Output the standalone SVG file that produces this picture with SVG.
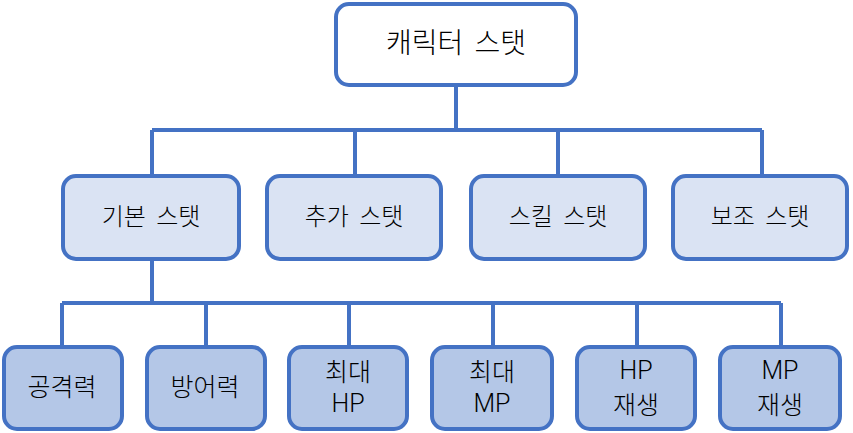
<svg xmlns="http://www.w3.org/2000/svg" width="853" height="433" viewBox="0 0 853 433">
<style>
.box{stroke:#4472C4;stroke-width:4}
.root{fill:#FFFFFF}
.mid{fill:#DAE3F3}
.leaf{fill:#B4C7E7}
.t{font-family:"Noto Sans CJK KR","Noto Sans",sans-serif;font-weight:300;fill:#000;text-anchor:middle}
.la{font-family:Roboto,"Noto Sans CJK KR",sans-serif;font-weight:300}
.big{font-size:28px;word-spacing:5px}
.sm{font-size:24px;word-spacing:5px}
.lf{font-size:25px}
.conn{fill:none;stroke:#4472C4;stroke-width:4}
</style>
<g id="connectors">
<path class="conn" d="M456 85V130M152 130H762M152 130V176M355 130V176M558 130V176M762 130V176"/>
<path class="conn" d="M152 259V303M62 303H781M62 303V347M206 303V347M349 303V347M493 303V347M637 303V347M781 303V347"/>
</g>
<g id="root"><rect class="box root" x="336" y="4" width="240" height="81" rx="13"/><text class="t big" x="456" y="53">캐릭터 스탯</text></g>
<g id="basic"><rect class="box mid" x="63" y="176" width="176" height="83" rx="13"/><text class="t sm" x="151" y="225">기본 스탯</text></g>
<g id="extra"><rect class="box mid" x="267" y="176" width="174" height="83" rx="13"/><text class="t sm" x="354" y="225">추가 스탯</text></g>
<g id="skill"><rect class="box mid" x="471" y="176" width="174" height="83" rx="13"/><text class="t sm" x="558" y="225">스킬 스탯</text></g>
<g id="sub"><rect class="box mid" x="673" y="176" width="174" height="83" rx="13"/><text class="t sm" x="760" y="225">보조 스탯</text></g>
<g id="atk"><rect class="box leaf" x="4" y="347" width="118" height="82" rx="13"/><text class="t lf" x="62" y="396">공격력</text></g>
<g id="def"><rect class="box leaf" x="147" y="347" width="118" height="82" rx="13"/><text class="t lf" x="205" y="396">방어력</text></g>
<g id="maxhp"><rect class="box leaf" x="289" y="347" width="118" height="82" rx="13"/><text class="t lf" x="348" y="381">최대</text><text class="t lf la" x="348" y="412">HP</text></g>
<g id="maxmp"><rect class="box leaf" x="432" y="347" width="120" height="82" rx="13"/><text class="t lf" x="492" y="381">최대</text><text class="t lf la" x="492" y="412">MP</text></g>
<g id="hpregen"><rect class="box leaf" x="577" y="347" width="118" height="82" rx="13"/><text class="t lf la" x="636" y="379">HP</text><text class="t lf" x="636" y="414">재생</text></g>
<g id="mpregen"><rect class="box leaf" x="720" y="347" width="120" height="82" rx="13"/><text class="t lf la" x="780" y="379">MP</text><text class="t lf" x="780" y="414">재생</text></g>
</svg>
